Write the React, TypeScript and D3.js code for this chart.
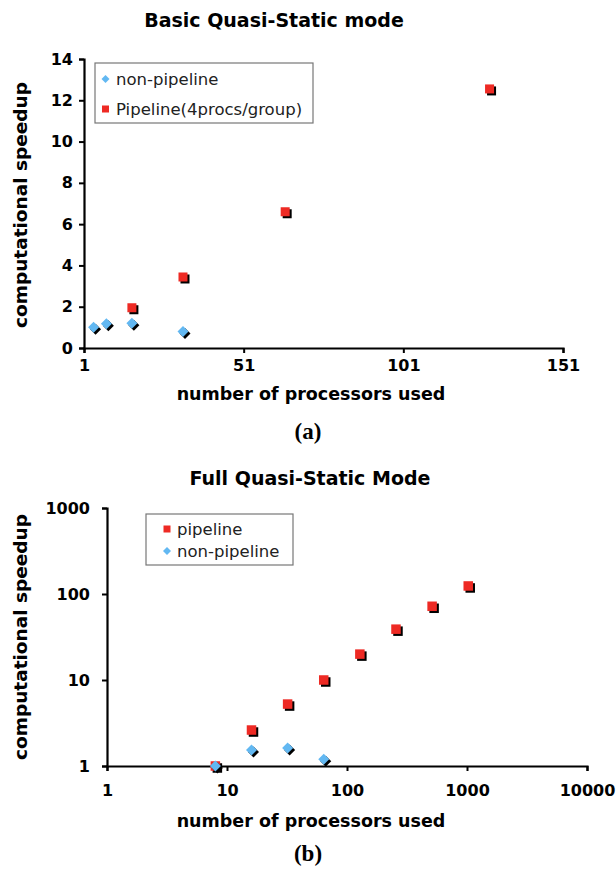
import React, { useEffect, useRef } from "react";
import * as d3 from "d3";

// chart (a): Basic Quasi-Static mode
const basicProcs = [4, 8, 16, 32];
const basicNonPipeline = [1.0, 1.18, 1.2, 0.8];
const basicPipeProcs = [16, 32, 64, 128];
const basicPipeline = [1.95, 3.44, 6.6, 12.55];
const basicXTicks = [1, 51, 101, 151];
const basicYTicks = [0, 2, 4, 6, 8, 10, 12, 14];

// chart (b): Full Quasi-Static Mode
const fullPipeProcs = [8, 16, 32, 64, 128, 256, 512, 1024];
const fullPipeline = [1.0, 2.62, 5.25, 10.0, 20.0, 39, 72, 124];
const fullNonProcs = [8, 16, 32, 64];
const fullNonPipeline = [1.0, 1.53, 1.62, 1.2];
const fullXTicks = [1, 10, 100, 1000, 10000];
const fullYTicks = [1, 10, 100, 1000];

const RED = "#ee2a24";
const BLUE = "#62b8f2";
const FONT = "'DejaVu Sans', Verdana, sans-serif";

export default function App() {
  const ref = useRef<SVGSVGElement>(null);

  useEffect(() => {
    const svg = d3.select(ref.current);
    svg.selectAll("*").remove();

    const styleAxis = (g: any) => {
      g.select(".domain").attr("stroke", "#000").attr("stroke-width", 2.2);
      g.selectAll(".tick line").attr("stroke", "#000").attr("stroke-width", 2);
      g.selectAll(".tick text")
        .attr("fill", "#000")
        .style("font-family", FONT)
        .style("font-weight", "bold")
        .style("font-size", "16px");
    };

    const square = (g: any, data: any[], x: any, y: any, s: number) => {
      g.selectAll(null).data(data).enter().append("rect")
        .attr("x", (d: any) => x(d[0]) - s / 2 + 2)
        .attr("y", (d: any) => y(d[1]) - s / 2 + 2)
        .attr("width", s).attr("height", s).attr("fill", "#000");
      g.selectAll(null).data(data).enter().append("rect")
        .attr("x", (d: any) => x(d[0]) - s / 2)
        .attr("y", (d: any) => y(d[1]) - s / 2)
        .attr("width", s).attr("height", s).attr("fill", RED);
    };

    const diamond = (g: any, data: any[], x: any, y: any, s: number) => {
      const p = (cx: number, cy: number) =>
        `M${cx},${cy - s}L${cx + s},${cy}L${cx},${cy + s}L${cx - s},${cy}Z`;
      g.selectAll(null).data(data).enter().append("path")
        .attr("d", (d: any) => p(x(d[0]) + 2, y(d[1]) + 2)).attr("fill", "#000");
      g.selectAll(null).data(data).enter().append("path")
        .attr("d", (d: any) => p(x(d[0]), y(d[1]))).attr("fill", BLUE);
    };

    const text = (t: string, x: number, y: number, size: number, opts: any = {}) => {
      const el = svg.append("text")
        .attr("x", x).attr("y", y)
        .attr("text-anchor", opts.anchor || "middle")
        .style("font-family", opts.family || FONT)
        .style("font-weight", opts.weight || "bold")
        .style("font-size", size + "px")
        .attr("fill", "#000")
        .text(t);
      if (opts.rotate) el.attr("transform", `rotate(-90,${x},${y})`);
      return el;
    };

    // mx = marker centre offset, tx = text offset, from the box's left edge
    const legend = (x0: number, y0: number, w: number, h: number, mx: number, tx: number, items: any[]) => {
      svg.append("rect").attr("x", x0).attr("y", y0).attr("width", w).attr("height", h)
        .attr("fill", "#fff").attr("stroke", "#777").attr("stroke-width", 1.2);
      items.forEach((it) => {
        if (it.kind === "square") {
          svg.append("rect").attr("x", x0 + mx - 3.5).attr("y", y0 + it.dy - 3.5)
            .attr("width", 7).attr("height", 7).attr("fill", RED);
        } else {
          const cx = x0 + mx, cy = y0 + it.dy;
          svg.append("path").attr("d", `M${cx},${cy - 4}L${cx + 4},${cy}L${cx},${cy + 4}L${cx - 4},${cy}Z`)
            .attr("fill", BLUE);
        }
        text(it.label, x0 + tx, y0 + it.dy + 6, 16.5, { anchor: "start", weight: "normal" })
          .attr("fill", "#222");
      });
    };

    // ---------- chart (a) ----------
    const xa = d3.scaleLinear().domain([1, 151]).range([84, 563]);
    const ya = d3.scaleLinear().domain([0, 14]).range([348, 59]);

    svg.append("g").attr("transform", "translate(0,348)")
      .call(d3.axisBottom(xa).tickValues(basicXTicks).tickFormat(d3.format("d")).tickSize(5).tickPadding(7))
      .call(styleAxis);
    svg.append("g").attr("transform", "translate(84,0)")
      .call(d3.axisLeft(ya).tickValues(basicYTicks).tickFormat(d3.format("d")).tickSize(5).tickPadding(6))
      .call(styleAxis);

    const ga = svg.append("g");
    diamond(ga, basicProcs.map((p, i) => [p, basicNonPipeline[i]]), xa, ya, 5.5);
    square(ga, basicPipeProcs.map((p, i) => [p, basicPipeline[i]]), xa, ya, 9);

    legend(95, 63, 218, 60, 10.5, 21, [
      { kind: "diamond", label: "non-pipeline", dy: 16 },
      { kind: "square", label: "Pipeline(4procs/group)", dy: 46 },
    ]);

    text("Basic Quasi-Static mode", 274, 27, 19);
    text("computational speedup", 27, 205, 18.5, { rotate: true });
    text("number of processors used", 311, 400, 17.5);
    text("(a)", 308, 439, 23, { family: "'Liberation Serif', 'Times New Roman', serif" });

    // ---------- chart (b) ----------
    const xb = d3.scaleLog().domain([1, 10000]).range([107, 587]);
    const yb = d3.scaleLog().domain([1, 1000]).range([766, 508]);

    svg.append("g").attr("transform", "translate(0,766)")
      .call(d3.axisBottom(xb).tickValues(fullXTicks).tickFormat(d3.format("d")).tickSize(5).tickPadding(14))
      .call(styleAxis);
    svg.append("g").attr("transform", "translate(107,0)")
      .call(d3.axisLeft(yb).tickValues(fullYTicks).tickFormat(d3.format("d")).tickSize(5).tickPadding(12))
      .call(styleAxis);

    const gb = svg.append("g");
    square(gb, fullPipeProcs.map((p, i) => [p, fullPipeline[i]]), xb, yb, 9.5);
    diamond(gb, fullNonProcs.map((p, i) => [p, fullNonPipeline[i]]), xb, yb, 5.5);

    legend(146, 514, 147, 51, 21, 31, [
      { kind: "square", label: "pipeline", dy: 15 },
      { kind: "diamond", label: "non-pipeline", dy: 37 },
    ]);

    text("Full Quasi-Static Mode", 310, 485, 19);
    text("computational speedup", 27, 637, 18.5, { rotate: true });
    text("number of processors used", 311, 827, 17.5);
    text("(b)", 308, 861, 23, { family: "'Liberation Serif', 'Times New Roman', serif" });
  }, []);

  return (
    <svg
      ref={ref}
      width={616}
      height={871}
      style={{ position: "absolute", left: 0, top: 0, background: "#fff" }}
    />
  );
}
